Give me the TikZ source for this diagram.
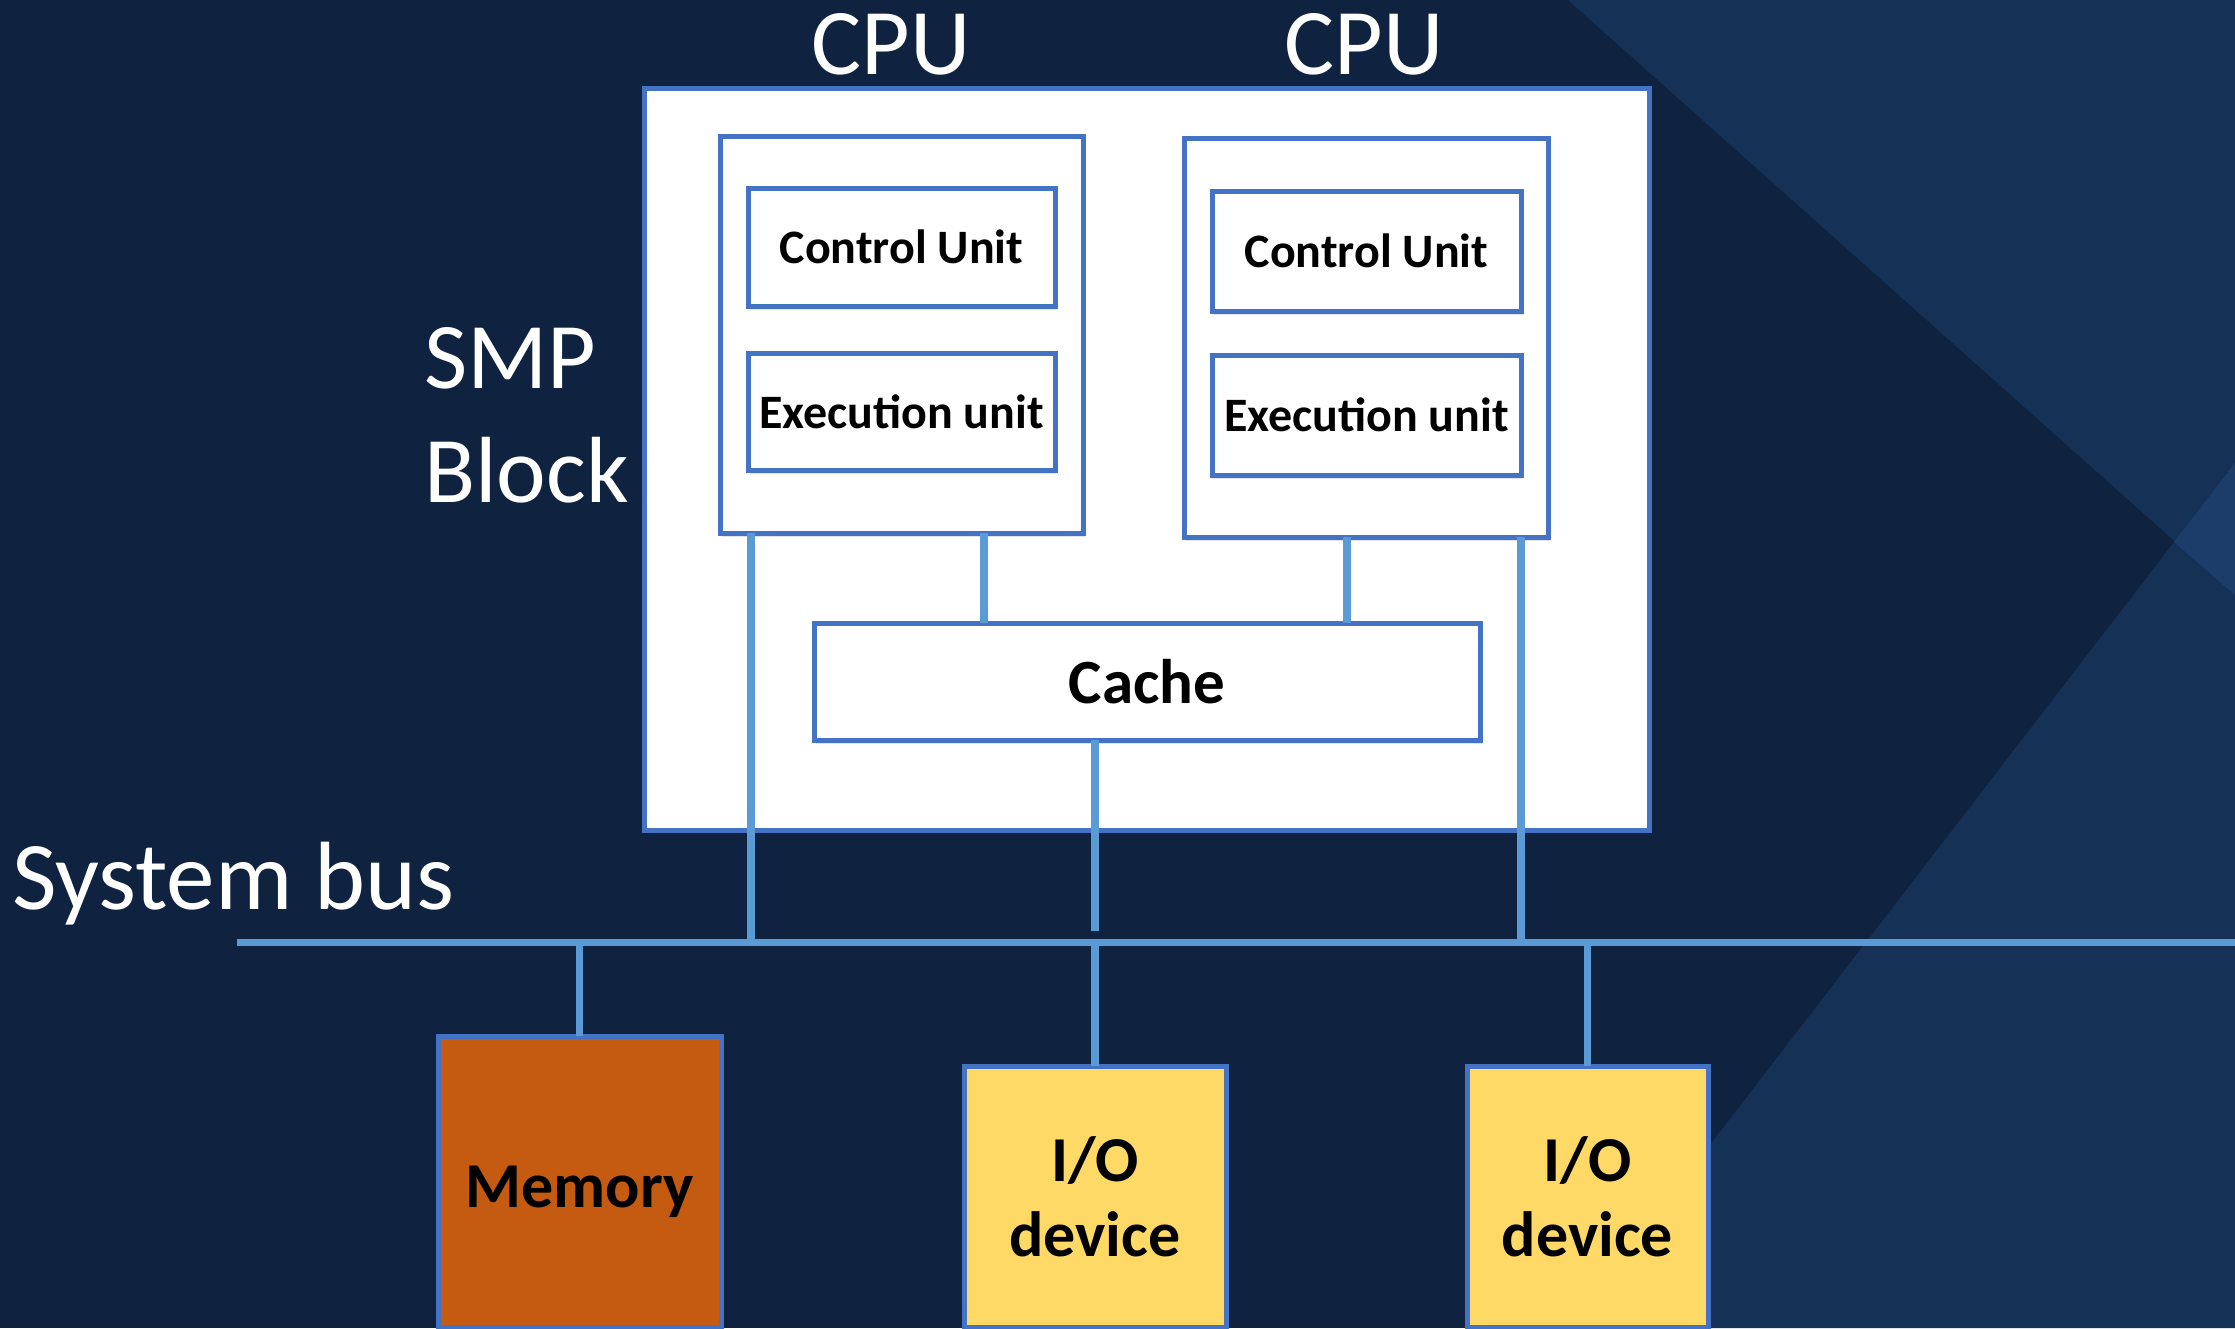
\documentclass[tikz,border=0pt]{standalone}
\usepackage{fontspec}
\setmainfont{Carlito}
\usetikzlibrary{shadows}
\definecolor{navy}{HTML}{0F2340}
\definecolor{navymid}{HTML}{153156}
\definecolor{navylight}{HTML}{1C3D69}
\definecolor{edgeblue}{HTML}{4472C4}
\definecolor{wireblue}{HTML}{5B9BD5}
\definecolor{memfill}{HTML}{C55A11}
\definecolor{iofill}{HTML}{FFD966}

\begin{document}
\begin{tikzpicture}[x=1pt,y=-1pt,
  heading/.style={text=white, inner sep=0pt, font=\fontsize{94}{114}\selectfont},
  frame/.style={draw=edgeblue, line width=5pt, fill=white, inner sep=0pt, outer sep=0pt, anchor=north west},
  softshadow/.style={drop shadow={shadow xshift=2pt, shadow yshift=-4pt, opacity=0.22}},
  unitbox/.style={frame, softshadow, font=\bfseries\fontsize{48}{58}\selectfont},
  devbox/.style={frame, align=center, font=\bfseries\fontsize{64}{75}\selectfont},
  wire/.style={draw=wireblue, line width=7.5pt},
]
% slide background with angled panels
\useasboundingbox (0,0) rectangle (2235,1328);
\fill[navy] (0,0) rectangle (2235,1328);
\fill[navymid] (1568,0) -- (2235,0) -- (2235,595) -- cycle;
\fill[navymid] (2235,463) -- (2235,1328) -- (1569,1328) -- cycle;
\fill[navylight] (2174,542) -- (2235,463) -- (2235,595) -- cycle;

% SMP block and its processors
\node[frame, minimum width=1005pt, minimum height=742pt] (smpbox) at (644,88) {};
\node[frame, softshadow, minimum width=363pt, minimum height=397pt] (cpu1) at (720,136) {};
\node[unitbox, minimum width=307pt, minimum height=118pt] (cu1) at (748,188) {Control Unit};
\node[unitbox, minimum width=307pt, minimum height=117pt] (eu1) at (748,353) {Execution unit};
\node[frame, softshadow, minimum width=364pt, minimum height=399pt] (cpu2) at (1184,138) {};
\node[unitbox, minimum width=309pt, minimum height=120pt] (cu2) at (1212,191) {Control Unit};
\node[unitbox, minimum width=309pt, minimum height=120pt] (eu2) at (1212,355) {Execution unit};
\node[unitbox, font=\bfseries\fontsize{63}{75}\selectfont, minimum width=666pt, minimum height=117pt] (cache) at (814,623) {Cache};

% memory and devices on the bus
\node[devbox, fill=memfill, text depth=0pt, text height=52pt, minimum width=283pt, minimum height=291pt] (mem) at (438,1036) {Memory};
\node[devbox, fill=iofill, minimum width=262pt, minimum height=261pt] (io1) at (964,1066) {I/O\\device};
\node[devbox, fill=iofill, minimum width=241pt, minimum height=261pt] (io2) at (1467,1066) {I/O\\device};

% labels
\node[heading, anchor=base] (cpuA) at (891,74) {CPU};
\node[heading, anchor=base] (cpuB) at (1364,74) {CPU};
\node[heading, anchor=base west] (smp) at (424,388) {SMP};
\node[heading, anchor=base west] (blk) at (424,502) {Block};
\node[heading, font=\fontsize{97}{114}\selectfont, anchor=base west] (sysbus) at (12,909) {System bus};

% system bus
\coordinate (busW) at (237,942);
\coordinate (busE) at (2235,942);

% connections
\draw[wire] ([xshift=31pt]cpu1.south west) coordinate (t1) -- (t1 |- busW);
\draw[wire] ([xshift=264pt]cpu1.south west) coordinate (t2) -- (t2 |- cache.north);
\draw[wire] ([xshift=163pt]cpu2.south west) coordinate (t3) -- (t3 |- cache.north);
\draw[wire] ([xshift=337pt]cpu2.south west) coordinate (t4) -- (t4 |- busW);
\draw[wire] ([xshift=281pt]cache.south west) -- ++(0,191);
\draw[wire] (mem.north) -- (mem.north |- busW);
\draw[wire] (io1.north) -- (io1.north |- busW);
\draw[wire] (io2.north) -- (io2.north |- busW);
\draw[draw=wireblue, line width=7pt] (busW) -- (busE);
\end{tikzpicture}
\end{document}
